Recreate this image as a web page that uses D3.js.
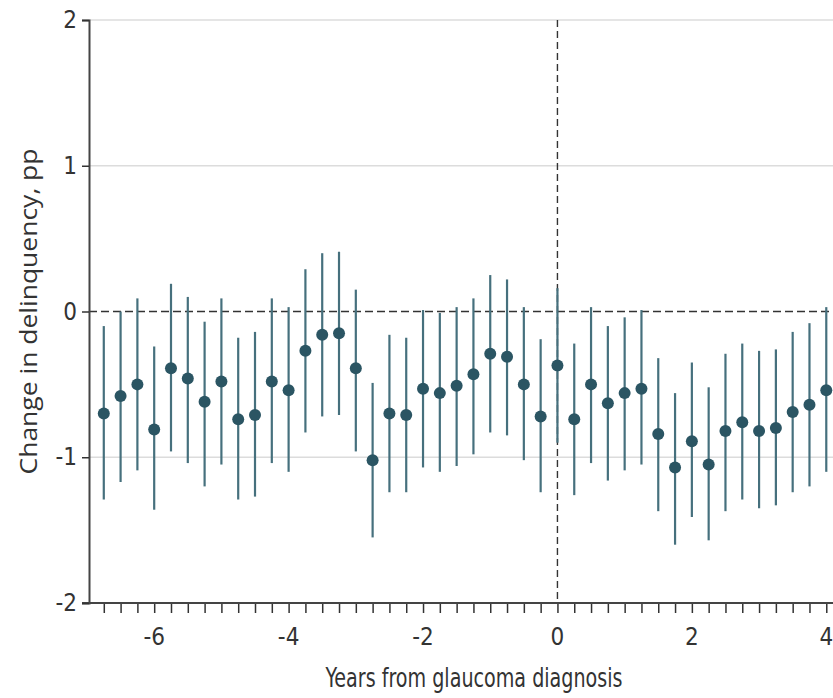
<!DOCTYPE html>
<html>
<head>
<meta charset="utf-8">
<script src="https://cdn.jsdelivr.net/npm/d3@7"></script>
<style>
  body { margin: 0; background: #fff; }
  svg { display: block; }
  .cond { font-family: 'DejaVu Sans Condensed', 'Liberation Sans Narrow', 'DejaVu Sans', sans-serif; font-stretch: condensed; }
</style>
</head>
<body>
<svg id="chart" width="833" height="698"></svg>
<script>
// quarters relative to diagnosis
const years = [-6.75, -6.5, -6.25, -6, -5.75, -5.5, -5.25, -5, -4.75, -4.5, -4.25, -4,
  -3.75, -3.5, -3.25, -3, -2.75, -2.5, -2.25, -2, -1.75, -1.5, -1.25, -1,
  -0.75, -0.5, -0.25, 0, 0.25, 0.5, 0.75, 1, 1.25, 1.5, 1.75, 2,
  2.25, 2.5, 2.75, 3, 3.25, 3.5, 3.75, 4];
const estimate = [-0.70, -0.58, -0.50, -0.81, -0.39, -0.46, -0.62, -0.48, -0.74, -0.71, -0.48, -0.54,
  -0.27, -0.16, -0.15, -0.39, -1.02, -0.70, -0.71, -0.53, -0.56, -0.51, -0.43, -0.29,
  -0.31, -0.50, -0.72, -0.37, -0.74, -0.50, -0.63, -0.56, -0.53, -0.84, -1.07, -0.89,
  -1.05, -0.82, -0.76, -0.82, -0.80, -0.69, -0.64, -0.54];
const ciLow = [-1.29, -1.17, -1.09, -1.36, -0.96, -1.04, -1.20, -1.05, -1.29, -1.27, -1.04, -1.10,
  -0.83, -0.72, -0.71, -0.96, -1.55, -1.24, -1.24, -1.07, -1.10, -1.06, -0.98, -0.83,
  -0.85, -1.02, -1.24, -0.90, -1.26, -1.04, -1.16, -1.09, -1.05, -1.37, -1.60, -1.41,
  -1.57, -1.37, -1.29, -1.35, -1.33, -1.24, -1.20, -1.10];
const ciHigh = [-0.10, 0.00, 0.09, -0.24, 0.19, 0.10, -0.07, 0.09, -0.18, -0.14, 0.09, 0.03,
  0.29, 0.40, 0.41, 0.15, -0.49, -0.16, -0.18, 0.01, -0.01, 0.03, 0.09, 0.25,
  0.22, 0.03, -0.19, 0.16, -0.22, 0.03, -0.10, -0.04, 0.01, -0.32, -0.56, -0.35,
  -0.52, -0.29, -0.22, -0.27, -0.26, -0.14, -0.08, 0.03];
const xTicks = [-6, -4, -2, 0, 2, 4];
const yTicks = [-2, -1, 0, 1, 2];

const data = years.map((yr, i) => ({ yr: yr, est: estimate[i], lo: ciLow[i], hi: ciHigh[i] }));

const svg = d3.select("#chart");

const x = d3.scaleLinear().domain([-6.97, 4.1]).range([89, 833]);
const y = d3.scaleLinear().domain([-2, 2]).range([603, 20]);

// light gridlines
svg.append("g")
  .selectAll("line")
  .data(yTicks.filter(d => d !== 0 && d !== -2))
  .enter().append("line")
  .attr("x1", x.range()[0])
  .attr("x2", x.range()[1])
  .attr("y1", d => y(d))
  .attr("y2", d => y(d))
  .attr("stroke", "#dcdcdc")
  .attr("stroke-width", 1.5);

// reference lines
svg.append("line")
  .attr("x1", x.range()[0]).attr("x2", x.range()[1])
  .attr("y1", y(0)).attr("y2", y(0))
  .attr("stroke", "#333")
  .attr("stroke-width", 1.6)
  .attr("stroke-dasharray", "8,4");

svg.append("line")
  .attr("x1", x(0)).attr("x2", x(0))
  .attr("y1", y(2)).attr("y2", y(-2))
  .attr("stroke", "#333")
  .attr("stroke-width", 1.4)
  .attr("stroke-dasharray", "7,4");

// confidence intervals
svg.append("g")
  .selectAll("line")
  .data(data)
  .enter().append("line")
  .attr("x1", d => x(d.yr))
  .attr("x2", d => x(d.yr))
  .attr("y1", d => y(d.lo))
  .attr("y2", d => y(d.hi))
  .attr("stroke", "#46707d")
  .attr("stroke-width", 2.2);

// point estimates
svg.append("g")
  .selectAll("circle")
  .data(data)
  .enter().append("circle")
  .attr("cx", d => x(d.yr))
  .attr("cy", d => y(d.est))
  .attr("r", 6)
  .attr("fill", "#2b5563");

// x axis: a tick every quarter, labels every 2 years
const xAxis = svg.append("g")
  .attr("transform", `translate(0,${y(-2)})`)
  .call(d3.axisBottom(x).tickValues(years).tickSize(10).tickFormat(""));
xAxis.select(".domain").remove();
xAxis.selectAll(".tick line").attr("stroke", "#333").attr("stroke-width", 1.5);

xAxis.selectAll(".lbl")
  .data(xTicks)
  .enter().append("text")
  .attr("class", "lbl cond")
  .attr("x", d => x(d))
  .attr("y", 42)
  .attr("text-anchor", "middle")
  .attr("fill", "#333")
  .attr("font-size", 24)
  .text(d => String(d));

svg.append("line")
  .attr("x1", x.range()[0] - 7).attr("x2", x.range()[1])
  .attr("y1", y(-2)).attr("y2", y(-2))
  .attr("stroke", "#444")
  .attr("stroke-width", 2);

// y axis
const yAxis = svg.append("g")
  .attr("transform", `translate(${x.range()[0]},0)`)
  .call(d3.axisLeft(y).tickValues(yTicks).tickSize(7).tickPadding(5).tickFormat(d => String(d)));
yAxis.select(".domain").attr("stroke", "#444").attr("stroke-width", 2);
yAxis.selectAll(".tick line").attr("stroke", "#333").attr("stroke-width", 1.5);
yAxis.selectAll(".tick text")
  .attr("class", "cond")
  .attr("fill", "#333")
  .attr("font-size", 24);

// axis titles
svg.append("text")
  .attr("class", "cond")
  .attr("x", 474)
  .attr("y", 687)
  .attr("text-anchor", "middle")
  .attr("fill", "#333")
  .attr("font-size", 27)
  .attr("textLength", 297)
  .attr("lengthAdjust", "spacingAndGlyphs")
  .text("Years from glaucoma diagnosis");

svg.append("text")
  .attr("transform", `translate(37,${(y(2) + y(-2)) / 2}) rotate(-90)`)
  .attr("text-anchor", "middle")
  .attr("fill", "#333")
  .attr("font-family", "'Open Sans', 'DejaVu Sans', sans-serif")
  .attr("font-size", 24)
  .attr("textLength", 326)
  .attr("lengthAdjust", "spacingAndGlyphs")
  .text("Change in delinquency, pp");
</script>
</body>
</html>
